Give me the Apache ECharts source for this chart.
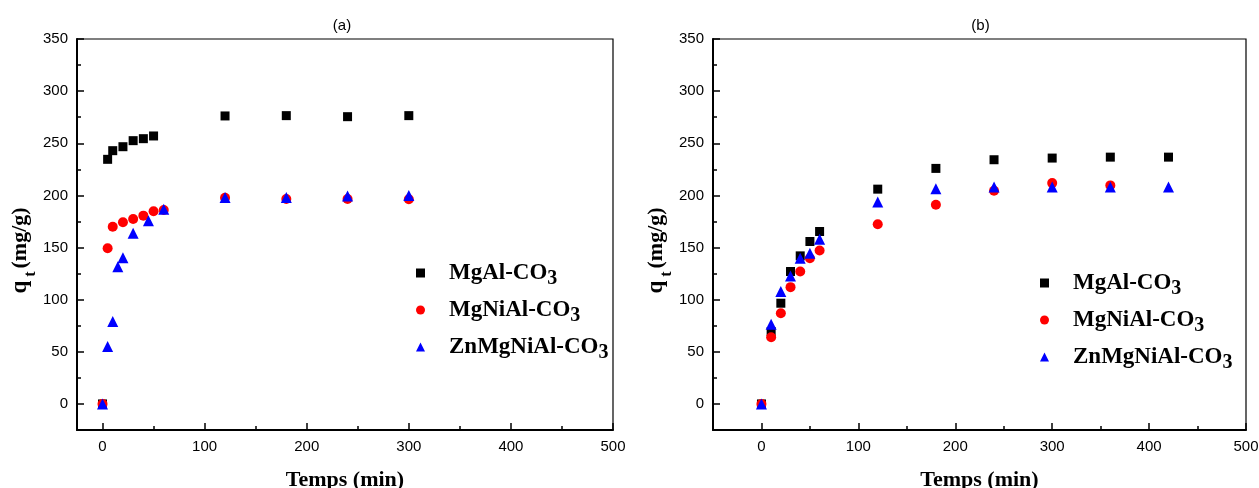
<!DOCTYPE html>
<html>
<head>
<meta charset="utf-8">
<script src="https://cdn.jsdelivr.net/npm/echarts@6/dist/echarts.min.js"></script>
<style>
  html, body { margin: 0; padding: 0; background: #ffffff; }
  #chart { width: 1259px; height: 488px; }
</style>
</head>
<body>
<div id="chart"></div>
<script>
// Adsorption kinetics: q_t (mg/g) versus contact time (min) for three LDH materials.
const seriesNames = ['MgAl-CO3', 'MgNiAl-CO3', 'ZnMgNiAl-CO3'];
const panelTitles = ['(a)', '(b)'];

// Panel (a)
const timeA_MgAl = [0, 5, 10, 20, 30, 40, 50, 120, 180, 240, 300];
const qA_MgAl = [0, 234.6, 242.9, 246.7, 252.5, 254.4, 257, 276.2, 276.5, 275.5, 276.5];
const timeA_MgNiAl = [0, 5, 10, 20, 30, 40, 50, 60, 120, 180, 240, 300];
const qA_MgNiAl = [0, 149.3, 170, 174.2, 177.4, 180.6, 184.8, 186, 197.8, 196.6, 196.6, 196.3];
const timeA_ZnMgNiAl = [0, 5, 10, 15, 20, 30, 45, 60, 120, 180, 240, 300];
const qA_ZnMgNiAl = [0, 55, 79, 131.6, 140.3, 163.7, 175.8, 186.7, 198, 198, 199.4, 200];

// Panel (b)
const timeB_MgAl = [0, 10, 20, 30, 40, 50, 60, 120, 180, 240, 300, 360, 420];
const qB_MgAl = [0, 69.4, 96.6, 127, 142, 155.8, 165.4, 206, 225.9, 234.2, 235.8, 236.7, 236.7];
const timeB_MgNiAl = [0, 10, 20, 30, 40, 50, 60, 120, 180, 240, 300, 360];
const qB_MgNiAl = [0, 64, 87, 112, 127, 139.8, 147.2, 172.4, 191, 204.4, 211.8, 209.6];
const timeB_ZnMgNiAl = [0, 10, 20, 30, 40, 50, 60, 120, 180, 240, 300, 360, 420];
const qB_ZnMgNiAl = [0, 76.5, 107.8, 122.8, 139.8, 144.6, 158, 193.6, 206.4, 208, 208, 208, 208];

// Tick values
const yMajorTicks = [0, 50, 100, 150, 200, 250, 300, 350];
const yMinorTicks = [25, 75, 125, 175, 225, 275, 325];
const xMajorTicks = [0, 100, 200, 300, 400, 500];
const xMinorTicks = [50, 150, 250, 350, 450];

const SERIF = '"Liberation Serif", "Times New Roman", serif';
const SANS = '"Liberation Sans", Arial, sans-serif';

const pairs = (ts, qs) => ts.map((t, i) => [t, qs[i]]);

const panels = [
  { grid: { left: 77, top: 39, width: 536, height: 391 }, xMin: -25,
    titleLeft: 337, legend: { left: 416, top: 261 },
    data: [pairs(timeA_MgAl, qA_MgAl), pairs(timeA_MgNiAl, qA_MgNiAl), pairs(timeA_ZnMgNiAl, qA_ZnMgNiAl)] },
  { grid: { left: 713, top: 39, width: 533, height: 391 }, xMin: -50,
    titleLeft: 975.5, legend: { left: 1040, top: 271 },
    data: [pairs(timeB_MgAl, qB_MgAl), pairs(timeB_MgNiAl, qB_MgNiAl), pairs(timeB_ZnMgNiAl, qB_ZnMgNiAl)] }
];

const markerStyle = [
  { symbol: 'rect', size: 9, color: '#000000' },
  { symbol: 'circle', size: 10, color: '#ff0000' },
  { symbol: 'triangle', size: 11, color: '#0000ff' }
];

const grids = [], xAxes = [], yAxes = [], series = [], titles = [], legends = [];

// main grids (with frame) first, then overlapping grids for the minor ticks
const gridBase = { outerBoundsMode: 'none', containLabel: false };
panels.forEach(p => grids.push(Object.assign({ show: true, borderColor: '#000', borderWidth: 1.2, backgroundColor: 'transparent' }, gridBase, p.grid)));
panels.forEach(p => grids.push(Object.assign({ show: false }, gridBase, p.grid)));

const axisLineStyle = { show: true, onZero: false, lineStyle: { color: '#000', width: 2 } };

panels.forEach((p, i) => {
  xAxes.push({
    gridIndex: i, type: 'value', min: p.xMin, max: 500, position: 'bottom',
    axisLine: axisLineStyle,
    axisTick: { show: true, inside: true, length: 7, customValues: xMajorTicks, lineStyle: { color: '#000', width: 1.5 } },
    axisLabel: { customValues: xMajorTicks, color: '#000', fontSize: 15, fontFamily: SANS, margin: 9 },
    splitLine: { show: false },
    name: 'Temps (min)', nameLocation: 'middle', nameGap: 39,
    nameTextStyle: { fontFamily: SERIF, fontWeight: 'bold', fontSize: 22, color: '#000' }
  });
  yAxes.push({
    gridIndex: i, type: 'value', min: -25, max: 350, position: 'left',
    axisLine: axisLineStyle,
    axisTick: { show: true, inside: true, length: 7, customValues: yMajorTicks, lineStyle: { color: '#000', width: 1.5 } },
    axisLabel: { customValues: yMajorTicks, color: '#000', fontSize: 15, fontFamily: SANS, margin: 9 },
    splitLine: { show: false },
    name: '{q|q}{t|t}{u|(mg/g)}', nameLocation: 'middle', nameGap: 44,
    nameTextStyle: {
      color: '#000',
      rich: {
        q: { fontFamily: SERIF, fontWeight: 'bold', fontSize: 23, lineHeight: 24, color: '#000' },
        t: { fontFamily: SERIF, fontWeight: 'bold', fontSize: 16, lineHeight: 24, verticalAlign: 'top', padding: [15, 3, 0, 4], color: '#000' },
        u: { fontFamily: SERIF, fontWeight: 'bold', fontSize: 22, lineHeight: 24, padding: [0, 32, 0, 0], color: '#000' }
      }
    }
  });
  titles.push({
    text: panelTitles[i], left: p.titleLeft, top: 13, textAlign: 'center',
    textStyle: { fontFamily: SANS, fontWeight: 'normal', fontSize: 15, color: '#000' }
  });
  legends.push({
    orient: 'vertical', left: p.legend.left, top: p.legend.top, padding: 0,
    itemWidth: 9, itemHeight: 9, itemGap: 9, selectedMode: false,
    data: seriesNames,
    formatter: name => '{m|' + name.slice(0, -1) + '}{s|' + name.slice(-1) + '}',
    textStyle: {
      color: '#000',
      rich: {
        m: { fontFamily: SERIF, fontWeight: 'bold', fontSize: 23, lineHeight: 24, padding: [0, 0, 0, 19], color: '#000' },
        s: { fontFamily: SERIF, fontWeight: 'bold', fontSize: 20, lineHeight: 24, verticalAlign: 'top', padding: [8, 0, 0, 0], color: '#000' }
      }
    }
  });
  p.data.forEach((d, k) => {
    series.push({
      type: 'scatter', name: seriesNames[k], xAxisIndex: i, yAxisIndex: i,
      symbol: markerStyle[k].symbol, symbolSize: markerStyle[k].size,
      itemStyle: { color: markerStyle[k].color, opacity: 1 },
      data: d, z: 2 + k
    });
  });
});

// minor-tick axes on the overlapping grids
panels.forEach((p, i) => {
  xAxes.push({
    gridIndex: i + 2, type: 'value', min: p.xMin, max: 500, position: 'bottom',
    axisLine: { show: false, onZero: false },
    axisTick: { show: true, inside: true, length: 4, customValues: xMinorTicks, lineStyle: { color: '#000', width: 1.5 } },
    axisLabel: { show: false }, splitLine: { show: false }
  });
  yAxes.push({
    gridIndex: i + 2, type: 'value', min: -25, max: 350, position: 'left',
    axisLine: { show: false, onZero: false },
    axisTick: { show: true, inside: true, length: 4, customValues: yMinorTicks, lineStyle: { color: '#000', width: 1.5 } },
    axisLabel: { show: false }, splitLine: { show: false }
  });
});

const chart = echarts.init(document.getElementById('chart'), null, { renderer: 'canvas' });
chart.setOption({
  animation: false,
  backgroundColor: '#ffffff',
  title: titles,
  legend: legends,
  grid: grids,
  xAxis: xAxes,
  yAxis: yAxes,
  series: series
});
</script>
</body>
</html>
